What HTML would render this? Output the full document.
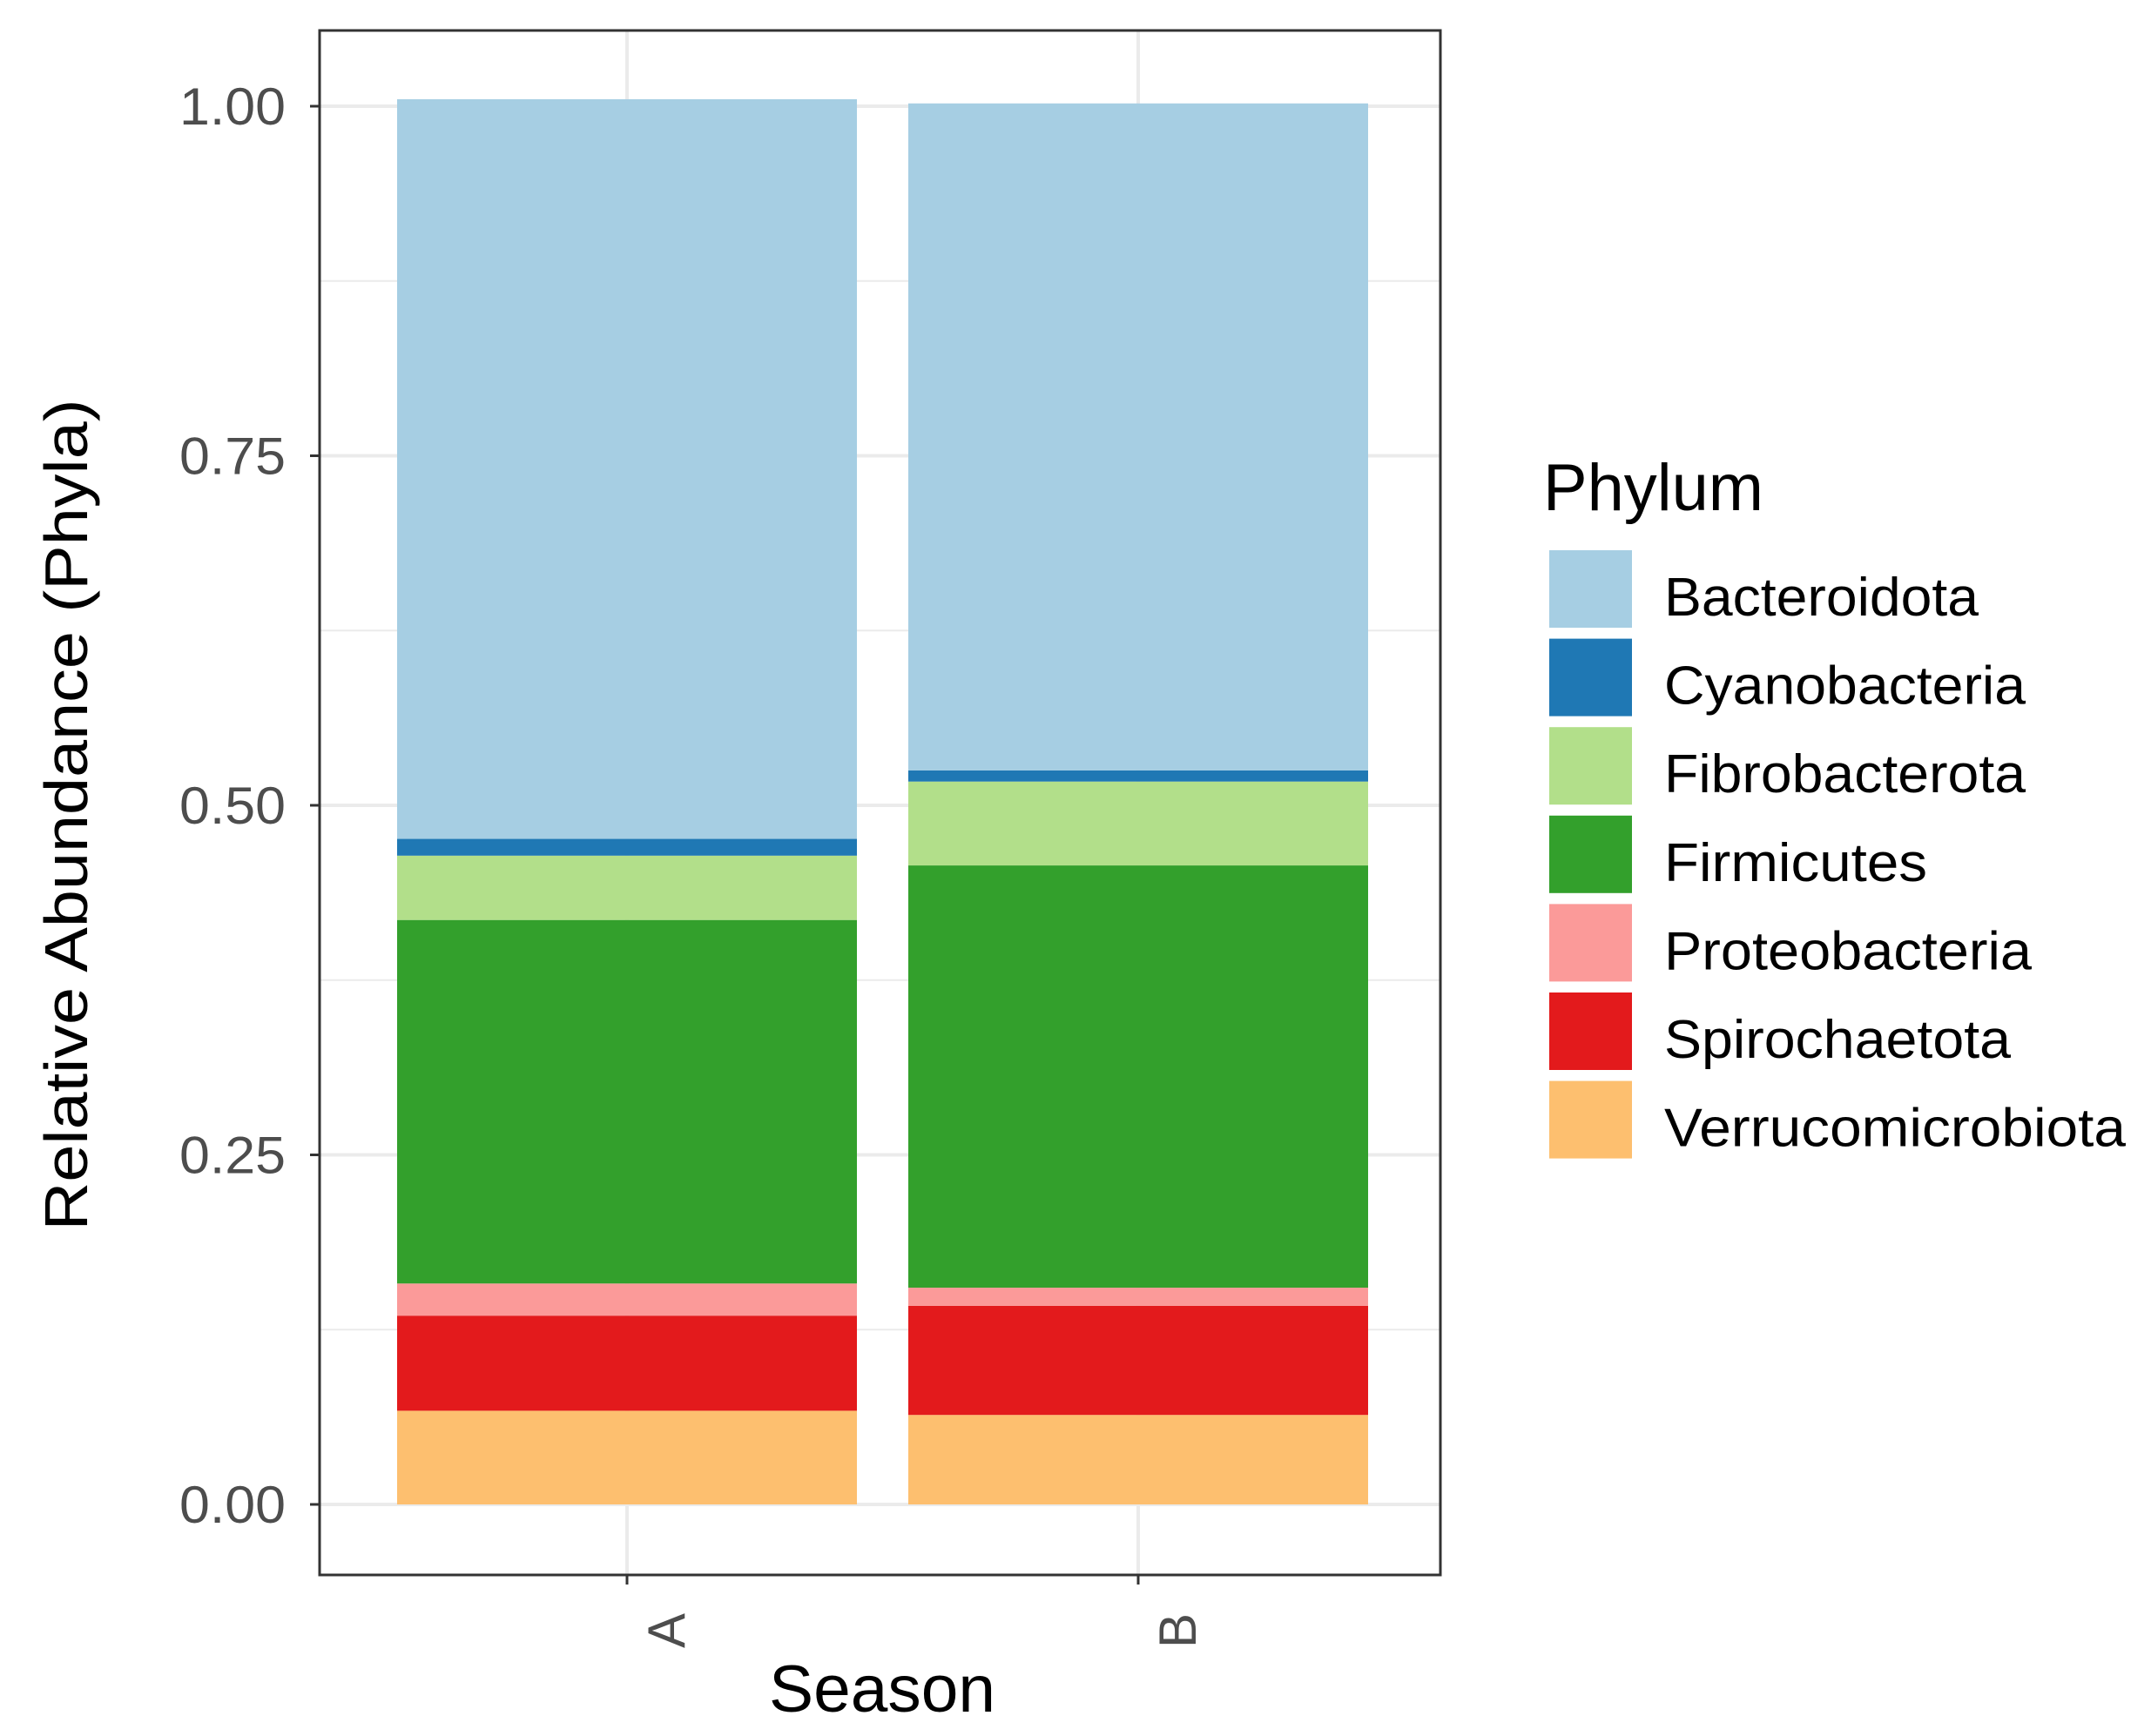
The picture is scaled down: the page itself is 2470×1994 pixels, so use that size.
<!DOCTYPE html>
<html><head><meta charset="utf-8"><style>
html,body{margin:0;padding:0;background:#fff;}
svg{display:block;font-family:"Liberation Sans",Arial,sans-serif;}
</style></head><body>
<svg id="chart" width="2470" height="1994" viewBox="0 0 2470 1994">
<rect x="0" y="0" width="2470" height="1994" fill="#fff"/>
<g id="grid"></g>
<g id="bars"></g>
<rect x="367" y="35" width="1287" height="1774" fill="none" stroke="#333" stroke-width="3"/>
<g id="yaxis"></g>
<g id="xaxis"></g>
<text x="100" y="936" transform="rotate(-90 100 936)" text-anchor="middle" font-size="70" fill="#000" textLength="955" lengthAdjust="spacingAndGlyphs">Relative Abundance (Phyla)</text>
<text x="1013" y="1966" text-anchor="middle" font-size="76" fill="#000" textLength="260" lengthAdjust="spacingAndGlyphs">Season</text>
<g id="legend">
<text x="1772" y="586" font-size="76" fill="#000" textLength="253" lengthAdjust="spacingAndGlyphs">Phylum</text>
</g>
</svg>
<script>
const categories = ["A", "B"];
const phyla = ["Verrucomicrobiota", "Spirochaetota", "Proteobacteria", "Firmicutes", "Fibrobacterota", "Cyanobacteria", "Bacteroidota"];
const valuesA = [0.067, 0.068, 0.023, 0.260, 0.046, 0.012, 0.529];
const valuesB = [0.064, 0.078, 0.013, 0.302, 0.060, 0.008, 0.477];
const colors = ["#FDBF6F", "#E31A1C", "#FB9A99", "#33A02C", "#B2DF8A", "#1F78B4", "#A6CEE3"];
const yTicks = [0, 0.25, 0.5, 0.75, 1.0];
const yTickLabels = ["0.00", "0.25", "0.50", "0.75", "1.00"];
const legendOrder = ["Bacteroidota", "Cyanobacteria", "Fibrobacterota", "Firmicutes", "Proteobacteria", "Spirochaetota", "Verrucomicrobiota"];

const NS = "http://www.w3.org/2000/svg";
const px0 = 367, px1 = 1654, py0 = 35, py1 = 1809;
function yScale(v){ return 1728 - v * 1606; }
const bandStep = 587, barW = 528;
function xScale(i){ return 720 + i * bandStep; }
function mk(tag, attrs, parent){ const e = document.createElementNS(NS, tag); for (const k in attrs) e.setAttribute(k, attrs[k]); parent.appendChild(e); return e; }

const grid = document.getElementById('grid');
mk('rect', {x: px0, y: py0, width: px1 - px0, height: py1 - py0, fill: '#fff'}, grid);
for (let i = 0; i < yTicks.length - 1; i++) {
  const m = (yTicks[i] + yTicks[i + 1]) / 2;
  const l = mk('line', {x1: px0, x2: px1, y1: yScale(m), y2: yScale(m), stroke: '#ebebeb', 'stroke-width': 2}, grid);
  
  
}
for (let i = 0; i < yTicks.length; i++) {
  const l = mk('line', {x1: px0, x2: px1, y1: yScale(yTicks[i]), y2: yScale(yTicks[i]), stroke: '#ebebeb', 'stroke-width': 4}, grid);
  
  
}
categories.forEach((c, i) => {
  const l = mk('line', {x1: xScale(i), x2: xScale(i), y1: py0, y2: py1, stroke: '#ebebeb', 'stroke-width': 4}, grid);
  
  
});

const bars = document.getElementById('bars');
[valuesA, valuesB].forEach((vals, i) => {
  let cum = 0;
  vals.forEach((v, j) => {
    const yTop = yScale(cum + v), yBot = yScale(cum);
    const r = mk('rect', {x: xScale(i) - barW / 2, y: yTop, width: barW, height: yBot - yTop, fill: colors[j]}, bars);
    
    
    cum += v;
  });
});

const ya = document.getElementById('yaxis');
yTicks.forEach((t, i) => {
  const l = mk('line', {x1: px0 - 11, x2: px0, y1: yScale(t), y2: yScale(t), stroke: '#333', 'stroke-width': 3}, ya);
  
  
  const tx = mk('text', {x: 328, y: yScale(t) + 21, 'text-anchor': 'end', 'font-size': 60, fill: '#4d4d4d', textLength: 122, lengthAdjust: 'spacingAndGlyphs'}, ya);
  tx.textContent = yTickLabels[i];
  
  
});

const xa = document.getElementById('xaxis');
categories.forEach((c, i) => {
  const l = mk('line', {x1: xScale(i), x2: xScale(i), y1: py1, y2: py1 + 11, stroke: '#333', 'stroke-width': 3}, xa);
  
  
  const bx = xScale(i) + 66, by = 1853;
  const tx = mk('text', {x: bx, y: by, 'text-anchor': 'end', 'font-size': 60, fill: '#4d4d4d', transform: 'rotate(-90 ' + bx + ' ' + by + ')'}, xa);
  tx.textContent = c;
  
  
});

const legendTextLen = {"Bacteroidota": 361, "Cyanobacteria": 415, "Fibrobacterota": 415, "Firmicutes": 302, "Proteobacteria": 422, "Spirochaetota": 398, "Verrucomicrobiota": 530};
const lg = document.getElementById('legend');
legendOrder.forEach((name, k) => {
  const j = phyla.indexOf(name);
  const y = 632 + k * 101.6;
  const r = mk('rect', {x: 1779, y: y, width: 95, height: 89, fill: colors[j]}, lg);
  
  
  const t = mk('text', {x: 1911, y: y + 75, 'font-size': 62, fill: '#000', textLength: legendTextLen[name], lengthAdjust: 'spacingAndGlyphs'}, lg);
  t.textContent = name;
  
  
});
</script>
</body></html>
